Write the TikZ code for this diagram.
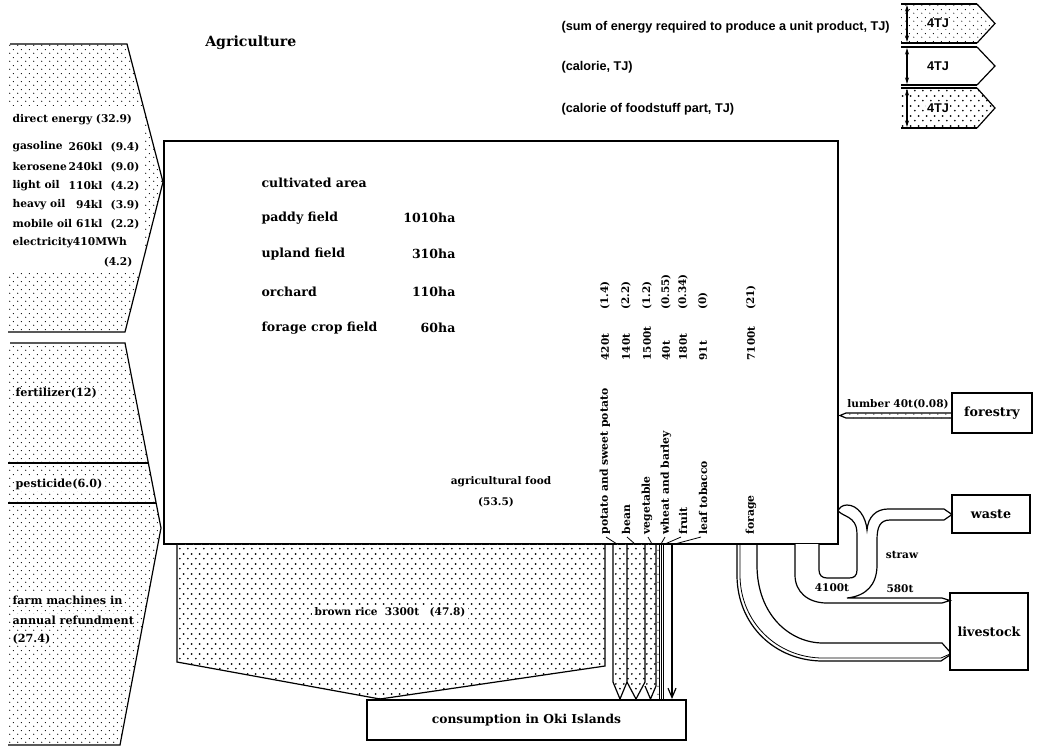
\documentclass[tikz,border=0pt]{standalone}
\usepackage{fontspec}
\setmainfont{DejaVu Serif}
\newfontfamily\legfont{Liberation Sans}
\usetikzlibrary{patterns.meta,arrows.meta}

\tikzdeclarepattern{
  name=sparsedots, type=colored,
  bounding box={(0pt,0pt) and (6pt,6pt)},
  tile size={(6pt,6pt)},
  code={\fill[black] (1.5pt,1.5pt) circle (0.5pt); \fill[black] (4.5pt,4.5pt) circle (0.5pt);}
}
\tikzdeclarepattern{
  name=bigdots, type=colored,
  bounding box={(0pt,0pt) and (5.8pt,7.6pt)},
  tile size={(5.8pt,7.6pt)},
  code={\fill[black] (1.45pt,1.9pt) circle (0.75pt); \fill[black] (4.35pt,5.7pt) circle (0.75pt);}
}

\begin{document}
\begin{tikzpicture}[x=0.75pt,y=-0.75pt, line join=miter,
  serif/.style={font=\bfseries\fontsize{7.9}{9}\selectfont, inner sep=1pt},
  lab/.style={font=\bfseries\fontsize{8}{9}\selectfont, inner sep=1pt},
  inl/.style={font=\bfseries\fontsize{8.4}{10}\selectfont, inner sep=1pt, fill=white},
  big/.style={font=\bfseries\fontsize{9.4}{11}\selectfont, inner sep=1pt},
  leg/.style={font=\legfont\bfseries\fontsize{9.5}{11}\selectfont, inner sep=1pt},
  edge/.style={line width=0.9pt},
  heavy/.style={line width=1.4pt},
  vlab/.style={font=\bfseries\fontsize{8.1}{9}\selectfont, inner sep=1pt, rotate=90, anchor=west},
  vnum/.style={font=\bfseries\fontsize{7.8}{9}\selectfont, inner sep=1pt, rotate=90, anchor=west},
  wbg/.style={fill=white},
  box/.style={draw, heavy, inner sep=0pt, outer sep=0pt, font=\bfseries\fontsize{9.5}{11}\selectfont}]
\useasboundingbox (0,0) rectangle (1039,751);
\fill[white] (0,0) rectangle (1039,751);

% ---------- legend ----------
\fill[pattern=sparsedots] (901,4) -- (977,4) -- (995,23.5) -- (977,43) -- (901,43) -- cycle;
\draw[heavy] (901,4) -- (977,4) (901,43) -- (977,43);
\draw[edge] (977,4) -- (995,23.5) -- (977,43);
\node[leg, wbg] (l1v) at (938,23.5) {4TJ};
\draw[edge, {Stealth[length=5pt,width=3pt]}-{Stealth[length=5pt,width=3pt]}] (907,5) -- (907,42);

\draw[heavy] (901,47) -- (977,47) (901,85) -- (977,85);
\draw[edge] (977,47) -- (995,66) -- (977,85);
\node[leg, wbg] (l2v) at (938,66) {4TJ};
\draw[edge, {Stealth[length=5pt,width=3pt]}-{Stealth[length=5pt,width=3pt]}] (907,48) -- (907,84);

\fill[pattern=bigdots] (901,88) -- (977,88) -- (995,108) -- (977,128) -- (901,128) -- cycle;
\draw[heavy] (901,88) -- (977,88) (901,128) -- (977,128);
\draw[edge] (977,88) -- (995,108) -- (977,128);
\node[leg, wbg] (l3v) at (938,108) {4TJ};
\draw[edge, {Stealth[length=5pt,width=3pt]}-{Stealth[length=5pt,width=3pt]}] (907,89) -- (907,127);

\node[leg, anchor=west] (l1t) at (560,27) {(sum of energy required to produce a unit product, TJ)};
\node[leg, anchor=west] (l2t) at (560,67) {(calorie, TJ)};
\node[leg, anchor=west] (l3t) at (560,109) {(calorie of foodstuff part, TJ)};

\node[font=\bfseries\fontsize{10.6}{12}\selectfont, anchor=west, inner sep=0pt] (title) at (205,43) {Agriculture};

% ---------- input 1: direct energy ----------
\fill[pattern=sparsedots] (8,44) -- (127,44) -- (163,182) -- (125,332) -- (8,332) -- cycle;
\fill[white] (8,106) rectangle (142,271);
\draw[edge] (10,44) -- (127,44) -- (163,182) -- (125,332) -- (8,332);

\node[lab, anchor=west] (de) at (11,120) {direct energy (32.9)};
\node[lab, anchor=west] (g1) at (11,147) {gasoline};
\node[lab, anchor=east] (g2) at (104,147) {260kl};
\node[lab, anchor=east] (g3) at (141,147) {(9.4)};
\node[lab, anchor=west] (k1) at (11,167) {kerosene};
\node[lab, anchor=east] (k2) at (104,167) {240kl};
\node[lab, anchor=east] (k3) at (141,167) {(9.0)};
\node[lab, anchor=west] (o1) at (11,186) {light oil};
\node[lab, anchor=east] (o2) at (104,186) {110kl};
\node[lab, anchor=east] (o3) at (141,186) {(4.2)};
\node[lab, anchor=west] (h1) at (11,205) {heavy oil};
\node[lab, anchor=east] (h2) at (104,205) {94kl};
\node[lab, anchor=east] (h3) at (141,205) {(3.9)};
\node[lab, anchor=west] (m1) at (11,224) {mobile oil};
\node[lab, anchor=east] (m2) at (104,224) {61kl};
\node[lab, anchor=east] (m3) at (141,224) {(2.2)};
\node[lab, anchor=west] (e1) at (11,243) {electricity410MWh};
\node[lab, anchor=east] (e2) at (134,262) {(4.2)};

% ---------- input 2: fertilizer, pesticide, machines ----------
\fill[pattern=sparsedots] (8,343) -- (125,343) -- (161,528) -- (120,745) -- (8,745) -- cycle;
\draw[edge] (10,343) -- (125,343) -- (161,528) -- (120,745) -- (8,745);
\draw[edge] (8,463) -- (148,463) (8,503) -- (156,503);
\node[inl, anchor=west] (fe) at (14,393) {fertilizer(12)};
\node[inl, anchor=west] (pe) at (14,484) {pesticide(6.0)};
\node[inl, anchor=west] (fm1) at (11,600) {farm machines in};
\node[inl, anchor=west] (fm2) at (11,620) {annual refundment};
\node[inl, anchor=west] (fm3) at (11,639) {(27.4)};

% ---------- main box ----------
\node[box, minimum width=505.5pt, minimum height=302.25pt] (agri) at (501,342.5) {};

\node[big, anchor=west] (ca) at (260,183) {cultivated area};
\node[big, anchor=west] (pf) at (260,218) {paddy field};
\node[big, anchor=east] (pfv) at (457,218) {1010ha};
\node[big, anchor=west] (uf) at (260,254) {upland field};
\node[big, anchor=east] (ufv) at (457,254) {310ha};
\node[big, anchor=west] (oc) at (260,292) {orchard};
\node[big, anchor=east] (ocv) at (457,292) {110ha};
\node[big, anchor=west] (fc) at (260,328) {forage crop field};
\node[big, anchor=east] (fcv) at (457,328) {60ha};

\node[serif] (af1) at (501,482) {agricultural food};
\node[serif] (af2) at (496,502) {(53.5)};

% vertical labels
\node[vlab] (pn) at (605,536) {potato and sweet potato};
\node[vlab] (bn) at (626,536) {bean};
\node[vlab] (vn) at (647,536) {vegetable};
\node[vlab] (wn) at (666,536) {wheat and barley};
\node[vlab] (fn) at (683,536) {fruit};
\node[vlab] (tn) at (703,536) {leaf tobacco};
\node[vlab] (gn) at (751,536) {forage};

\node[vnum] (pa) at (605,362) {420t};
\node[vnum] (ba) at (626,362) {140t};
\node[vnum] (va) at (647,362) {1500t};
\node[vnum] (wa) at (666,362) {40t};
\node[vnum] (fa) at (683,362) {180t};
\node[vnum] (ta) at (703,362) {91t};
\node[vnum] (ga) at (751,362) {7100t};

\node[vnum] (pc) at (605,311) {(1.4)};
\node[vnum] (bc) at (626,311) {(2.2)};
\node[vnum] (vc) at (647,311) {(1.2)};
\node[vnum] (wc) at (666,311) {(0.55)};
\node[vnum] (fc2) at (683,311) {(0.34)};
\node[vnum] (tc) at (703,311) {(0)};
\node[vnum] (gc) at (751,311) {(21)};

% ---------- consumption ----------
\node[box, minimum width=239.25pt, minimum height=30pt, font=\bfseries\fontsize{9.2}{11}\selectfont] (cons) at (526.5,720) {consumption in Oki Islands};

% brown rice
\fill[pattern=bigdots] (177,544) -- (177,662) -- (380,699) -- (605,666) -- (605,544) -- cycle;
\draw[edge] (177,544) -- (177,662) -- (380,699) -- (605,666) -- (605,544);
\node[serif, wbg, inner sep=2pt] (br) at (390,612) {brown rice~~3300t\quad(47.8)};

% product arrows
\fill[pattern=bigdots] (613,544) -- (613,682) -- (620,699) -- (627,682) -- (627,544) -- cycle;
\fill[pattern=bigdots] (627,544) -- (627,682) -- (636,699) -- (645,682) -- (645,544) -- cycle;
\fill[pattern=bigdots] (645,544) -- (645,686) -- (650.5,699) -- (656,686) -- (656,544) -- cycle;
\fill[pattern=sparsedots] (656,544) -- (656,694) -- (657.5,699) -- (659,694) -- (659,544) -- cycle;
\draw[edge] (613,544) -- (613,682) -- (620,699) -- (627,682) -- (627,544);
\draw[edge] (627,682) -- (636,699) -- (645,682) -- (645,544);
\draw[edge] (645,686) -- (650.5,699) -- (656,686) -- (656,544);
\draw[line width=0.6pt] (659,544) -- (659,699) (661,544) -- (661,699) (663,544) -- (663,699);
\draw[edge, -{Straight Barb[length=7pt,width=6pt]}] (672,544) -- (672,699);

% leader lines
\draw[line width=0.6pt] (pn.west) ++(1,1) -- (617,544);
\draw[line width=0.6pt] (bn.west) ++(1,1) -- (635,544);
\draw[line width=0.6pt] (vn.west) ++(1,1) -- (652,544);
\draw[line width=0.6pt] (wn.west) ++(-1,1) -- (661,544);
\draw[line width=0.6pt] (fn.west) ++(-2,1) -- (665,544);
\draw[line width=0.6pt] (tn.west) ++(-2,1) -- (671,545);

% ---------- right side boxes ----------
\node[box, minimum width=60pt, minimum height=30pt] (forestry) at (992,413) {forestry};
\node[box, minimum width=58.5pt, minimum height=28.5pt] (waste) at (991,514) {waste};
\node[box, minimum width=58.5pt, minimum height=57.75pt] (livestock) at (989,631.5) {livestock};

% lumber
\fill[pattern=sparsedots] (forestry.west |- 0,413) -- (846,413) -- (840,415.5) -- (846,418) -- (forestry.west |- 0,418) -- cycle;
\draw[edge] (forestry.west |- 0,413) -- (846,413) -- (840,415.5) -- (846,418) -- (forestry.west |- 0,418);
\node[serif] (lum) at (898,404) {lumber 40t(0.08)};

% forage pipe
\draw[edge] (737,544) -- (737,575) .. controls (737,625) and (775,661) .. (823,661) -- (941,661) -- (livestock.west |- 0,655);
\draw[line width=0.6pt] (740,544) -- (740,575) .. controls (740,622) and (777,658) .. (823,658) -- (941,658) -- (livestock.west |- 0,654);
\draw[edge] (757,544) -- (757,565) .. controls (757,615) and (790,643) .. (823,643) -- (942,643) -- (livestock.west |- 0,652);

% straw pipe
\filldraw[fill=white, edge] (795,544) -- (795,575) .. controls (795,592) and (808,603) .. (827,603)
  -- (942,603) -- (livestock.west |- 0,600.5) -- (942,598) -- (847,598)
  .. controls (866,596) and (877,585) .. (877,565) -- (877,540)
  .. controls (877,527) and (880,520) .. (890,520) -- (944,520) -- (waste.west |- 0,514.5) -- (944,509) -- (888,509)
  .. controls (876,509) and (868,517) .. (867,530)
  .. controls (866,517) and (858,505) .. (847,505)
  .. controls (842,505) and (839,508) .. (838,511)
  .. controls (842,515) and (848,516) .. (852,520)
  .. controls (856,524) and (857,528) .. (857,535) -- (857,570)
  .. controls (857,576) and (854,578) .. (849,578) -- (827,578)
  .. controls (822,578) and (819,575) .. (819,570) -- (819,544);
\node[serif] (straw) at (902,555) {straw};
\node[serif] (s1) at (832,588) {4100t};
\node[serif] (s2) at (900,589) {580t};
\end{tikzpicture}
\end{document}
